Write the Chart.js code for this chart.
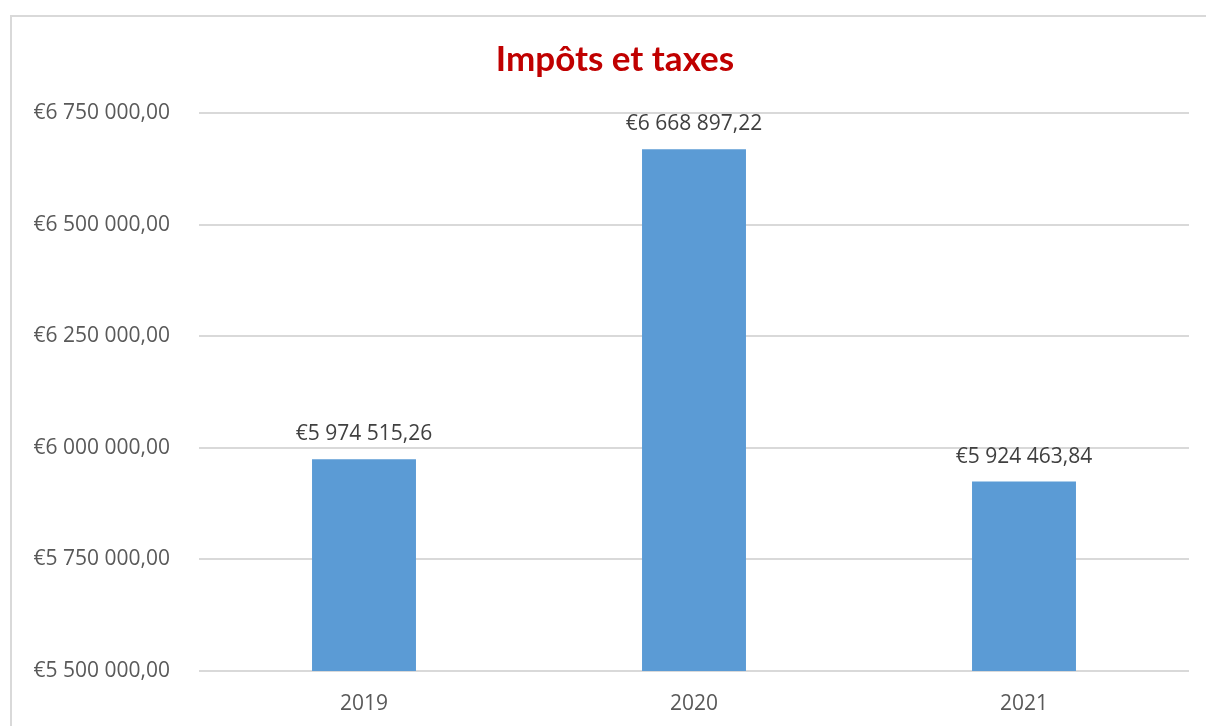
<!DOCTYPE html>
<html>
<head>
<meta charset="utf-8">
<script src="https://cdn.jsdelivr.net/npm/chart.js@4/dist/chart.umd.min.js"></script>
<style>
html,body{margin:0;padding:0;background:#fff;}
#wrap{position:relative;width:1206px;height:726px;}
#frame{position:absolute;left:10px;top:15px;width:1210px;height:720px;border-left:2px solid #d9d9d9;border-top:2px solid #d9d9d9;pointer-events:none;}
</style>
</head>
<body>
<div id="wrap">
<canvas id="c" width="1206" height="726"></canvas>
<div id="frame"></div>
</div>
<script>
const categories = ['2019', '2020', '2021'];
const values = [5974515.26, 6668897.22, 5924463.84];
const yMin = 5500000;
const yMax = 6750000;
const yStep = 250000;
const titleText = 'Impôts et taxes';

function fmtEuro(v) {
  const parts = Number(v).toFixed(2).split('.');
  const intPart = parts[0].replace(/\B(?=(\d{3})+(?!\d))/g, ' ');
  return '€' + intPart + ',' + parts[1];
}

const dataLabels = {
  id: 'dataLabels',
  afterDatasetsDraw(chart) {
    const ctx = chart.ctx;
    const meta = chart.getDatasetMeta(0);
    ctx.save();
    ctx.font = '21px "Open Sans"';
    ctx.fillStyle = '#404040';
    ctx.textAlign = 'center';
    ctx.textBaseline = 'middle';
    meta.data.forEach((bar, i) => {
      ctx.fillText(fmtEuro(chart.data.datasets[0].data[i]), bar.x, bar.y - 25);
    });
    ctx.restore();
  }
};

new Chart(document.getElementById('c'), {
  type: 'bar',
  data: {
    labels: categories,
    datasets: [{
      data: values,
      backgroundColor: '#5B9BD5',
      borderWidth: 0,
      barPercentage: 0.63,
      categoryPercentage: 0.5
    }]
  },
  options: {
    responsive: false,
    animation: false,
    layout: { padding: { left: 0, right: -24, top: 0, bottom: 0 } },
    plugins: {
      legend: { display: false },
      tooltip: { enabled: false },
      title: {
        display: true,
        text: titleText,
        color: '#C00000',
        font: { family: 'Lato', size: 35, weight: 'bold', lineHeight: 1.2 },
        padding: { top: 39, bottom: 32 }
      }
    },
    scales: {
      y: {
        min: yMin,
        max: yMax,
        afterFit(scale) { scale.width = 199; },
        ticks: {
          stepSize: yStep,
          color: '#595959',
          font: { family: 'Open Sans', size: 21 },
          padding: 29,
          callback: (v) => fmtEuro(v)
        },
        grid: { color: '#d9d9d9', lineWidth: 2, drawTicks: false },
        border: { display: false }
      },
      yRight: {
        position: 'right',
        min: yMin,
        max: yMax,
        afterFit(scale) { scale.width = 41; },
        ticks: { display: false },
        grid: { display: false, drawTicks: false },
        border: { display: false }
      },
      x: {
        afterFit(scale) { scale.height = 55; },
        ticks: {
          color: '#595959',
          font: { family: 'Open Sans', size: 21 },
          padding: 20
        },
        grid: { display: false, drawTicks: false },
        border: { display: false }
      }
    }
  },
  plugins: [dataLabels]
});
</script>
</body>
</html>
